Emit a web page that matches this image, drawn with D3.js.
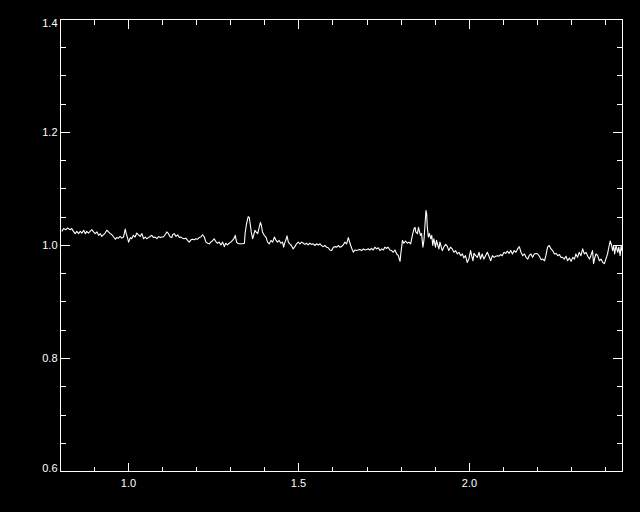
<!DOCTYPE html>
<html>
<head>
<meta charset="utf-8">
<script src="https://cdn.jsdelivr.net/npm/d3@7"></script>
<style>
  html, body { margin: 0; padding: 0; background: #000; }
  svg { display: block; }
  text { font-family: "Liberation Sans", Arial, sans-serif; font-size: 11px; fill: #fff; }
</style>
</head>
<body>
<svg id="chart" width="640" height="512"></svg>
<script>
// ---- data ----
const wavelength = [
  0.804,0.809,0.816,0.821,0.828,0.833,0.838,0.843,0.848,0.853,0.858,0.863,0.868,0.873,0.877,0.882,0.887,0.892,0.897,0.902,
  0.907,0.912,0.917,0.921,0.926,0.931,0.936,0.941,0.946,0.951,0.956,0.961,0.965,0.970,0.975,0.980,0.985,0.990,0.993,0.997,
  1.000,1.005,1.009,1.014,1.019,1.024,1.029,1.034,1.039,1.044,1.049,1.053,1.058,1.063,1.068,1.073,1.078,1.083,1.088,1.093,
  1.097,1.102,1.107,1.112,1.117,1.122,1.127,
  1.129,1.134,1.139,1.144,1.149,1.153,1.158,1.163,1.168,1.173,1.178,1.183,1.188,1.193,1.197,1.202,1.207,1.212,1.217,1.222,
  1.227,1.232,1.237,1.241,1.246,1.251,1.256,1.261,1.266,1.271,1.276,1.281,1.285,1.290,1.295,1.300,1.305,1.310,1.313,1.317,
  1.320,1.325,1.335,1.340,1.342,1.346,1.351,1.354,1.357,1.360,1.364,1.367,1.371,1.374,1.379,1.384,1.387,1.390,1.393,1.398,
  1.403,1.408,1.413,1.418,1.423,1.428,1.432,1.437,1.442,1.447,1.452,1.455,1.459,1.462,
  1.465,1.469,1.473,1.478,1.483,1.488,1.493,1.498,1.503,1.508,1.513,1.517,1.522,1.527,1.532,1.537,1.542,1.547,1.552,1.557,
  1.562,1.566,1.571,1.576,1.581,1.586,1.591,1.596,1.601,1.606,1.611,1.616,1.620,1.625,1.630,1.635,1.640,1.645,1.648,1.652,
  1.657,1.660,1.664,1.669,1.674,1.679,1.684,1.689,1.694,1.699,1.704,1.708,1.713,1.718,1.723,1.728,1.733,1.738,1.743,1.748,
  1.752,1.757,1.762,1.767,1.772,1.777,1.782,1.787,1.792,1.795,1.797,1.799,
  1.804,1.808,1.813,1.818,1.823,1.828,1.833,1.838,1.841,1.843,1.848,1.851,1.853,1.857,1.860,1.864,1.867,1.870,1.873,1.875,
  1.877,1.880,1.883,1.887,1.890,1.893,1.896,1.901,1.904,1.908,1.911,1.914,1.918,1.921,1.926,1.931,1.936,1.940,1.945,1.950,
  1.955,1.960,1.965,1.970,1.975,1.980,1.984,1.989,1.994,1.999,2.004,2.007,2.011,2.014,2.019,2.024,2.029,2.033,2.038,2.043,
  2.048,2.053,2.058,2.063,2.068,2.073,2.078,2.083,2.087,2.092,2.097,2.102,2.107,2.112,2.117,2.122,2.127,
  2.132,2.137,2.142,2.147,2.152,2.157,2.162,2.167,2.172,2.176,2.181,2.186,2.191,2.196,2.201,2.206,2.211,2.216,2.221,2.225,
  2.230,2.235,2.240,2.245,2.250,2.255,2.260,2.265,2.269,2.274,2.279,2.284,2.289,2.294,2.299,2.304,2.309,2.313,2.318,2.323,
  2.328,2.333,2.338,2.343,2.348,2.353,2.357,2.362,2.365,2.369,2.372,2.377,2.382,2.387,2.392,2.397,2.401,2.406,2.411,2.414,
  2.418,2.421,2.424,2.427,2.431,2.436,2.439,2.443,2.446,2.448
];
const flux = [
  1.025,1.030,1.028,1.031,1.028,1.030,1.025,1.021,1.025,1.021,1.025,1.022,1.027,1.021,1.025,1.022,1.025,1.028,1.024,1.021,
  1.024,1.018,1.021,1.016,1.019,1.022,1.027,1.024,1.021,1.019,1.015,1.011,1.014,1.013,1.016,1.013,1.015,1.029,1.021,1.013,
  1.006,1.014,1.012,1.018,1.015,1.022,1.019,1.016,1.021,1.012,1.015,1.012,1.014,1.016,1.018,1.014,1.015,1.012,1.016,1.014,
  1.015,1.015,1.019,1.024,1.021,1.015,1.014,
  1.019,1.021,1.016,1.019,1.014,1.015,1.013,1.012,1.013,1.009,1.006,1.010,1.011,1.010,1.012,1.011,1.014,1.015,1.019,1.015,
  1.006,1.004,1.003,1.006,1.008,1.012,1.007,1.004,1.006,1.001,1.006,0.998,1.004,1.001,1.004,1.006,1.009,1.013,1.018,1.006,
  1.004,1.003,1.003,1.004,1.021,1.038,1.051,1.050,1.038,1.024,1.012,1.018,1.027,1.024,1.021,1.034,1.041,1.035,1.024,1.018,
  1.015,1.006,1.003,1.009,1.006,1.015,1.010,1.006,1.009,1.004,1.006,0.997,1.006,1.010,
  1.017,1.006,1.003,1.000,0.994,0.998,1.003,1.006,1.003,1.006,1.004,1.002,1.004,1.001,1.004,1.002,1.003,1.000,1.003,1.001,
  1.003,1.000,0.998,1.000,0.997,0.996,0.992,0.991,0.997,0.998,0.997,1.000,0.997,0.998,1.001,1.006,1.003,1.014,1.008,1.000,
  0.992,0.988,0.992,0.991,0.992,0.993,0.991,0.994,0.992,0.993,0.994,0.992,0.995,0.992,0.997,0.994,0.996,0.991,0.994,0.992,
  0.997,0.995,0.997,0.992,0.991,0.988,0.992,0.985,0.982,0.975,0.972,0.985,
  1.009,1.004,1.008,1.004,1.006,1.003,1.018,1.030,1.032,1.024,1.021,1.032,1.027,1.018,1.021,0.997,1.009,1.035,1.062,1.056,
  1.032,1.015,1.021,1.012,1.018,1.000,1.012,0.997,1.009,1.000,0.994,1.006,0.997,0.991,0.998,1.002,0.998,0.991,0.997,0.994,
  0.988,0.991,0.985,0.988,0.982,0.985,0.978,0.982,0.970,0.976,0.991,0.982,0.973,0.986,0.982,0.979,0.988,0.976,0.985,0.976,
  0.982,0.988,0.981,0.973,0.982,0.979,0.981,0.982,0.981,0.984,0.982,0.988,0.986,0.990,0.986,0.991,0.985,
  0.991,0.988,0.994,0.998,0.988,0.982,0.985,0.979,0.976,0.982,0.985,0.979,0.985,0.986,0.985,0.981,0.975,0.976,0.973,0.982,
  0.997,1.000,0.994,0.991,0.985,0.986,0.982,0.984,0.979,0.979,0.976,0.981,0.973,0.978,0.972,0.979,0.976,0.985,0.979,0.988,
  0.982,0.994,0.985,0.988,0.981,0.976,0.982,0.991,0.968,0.979,0.985,0.982,0.973,0.976,0.970,0.968,0.976,0.985,1.000,1.008,
  1.000,0.991,1.000,0.985,1.000,0.988,0.997,0.982,1.000,0.991
];
const xDomain = [0.8, 2.45];
const yDomain = [0.6, 1.4];
const xMajorTicks = [1.0, 1.5, 2.0];
const xTickLabels = ["1.0", "1.5", "2.0"];
const xMinorTicks = [0.9, 1.1, 1.2, 1.3, 1.4, 1.6, 1.7, 1.8, 1.9, 2.1, 2.2, 2.3, 2.4];
const yMajorTicks = [0.6, 0.8, 1.0, 1.2, 1.4];
const yTickLabels = ["0.6", "0.8", "1.0", "1.2", "1.4"];
const yMinorTicks = [0.65, 0.7, 0.75, 0.85, 0.9, 0.95, 1.05, 1.1, 1.15, 1.25, 1.3, 1.35];

// ---- layout ----
const L = 60, R = 622, T = 19, B = 471;
const svg = d3.select("#chart");
svg.append("rect").attr("width", 640).attr("height", 512).attr("fill", "#000");

const x = d3.scaleLinear().domain(xDomain).range([L + 0.5, R + 0.5]);
const y = d3.scaleLinear().domain(yDomain).range([B + 0.5, T + 0.5]);
const xa = d3.scaleLinear().domain(xDomain).range([L, R]).interpolate(d3.interpolateRound);
const ya = d3.scaleLinear().domain(yDomain).range([B, T]).interpolate(d3.interpolateRound);

function strip(g) {
  g.select(".domain").remove();
  g.selectAll(".tick line").attr("stroke", "#fff").attr("stroke-width", 1);
  g.selectAll("text").attr("fill", "#fff").style("font-size", "11px")
    .style("font-family", '"Liberation Sans", Arial, sans-serif');
}

// bottom
svg.append("g").attr("transform", `translate(0,${B + 1})`)
  .call(d3.axisBottom(xa).tickValues(xMajorTicks).tickSize(-9).tickPadding(7)
    .tickFormat((d, i) => xTickLabels[i]))
  .call(strip);
svg.append("g").attr("transform", `translate(0,${B + 1})`)
  .call(d3.axisBottom(xa).tickValues(xMinorTicks).tickSize(-5).tickFormat(""))
  .call(strip);
// top
svg.append("g").attr("transform", `translate(0,${T})`)
  .call(d3.axisTop(xa).tickValues(xMajorTicks).tickSize(-10).tickFormat(""))
  .call(strip);
svg.append("g").attr("transform", `translate(0,${T})`)
  .call(d3.axisTop(xa).tickValues(xMinorTicks).tickSize(-6).tickFormat(""))
  .call(strip);
// left
const leftG = svg.append("g").attr("transform", `translate(${L},0)`)
  .call(d3.axisLeft(ya).tickValues(yMajorTicks).tickSize(-10).tickPadding(2.5)
    .tickFormat((d, i) => yTickLabels[i]))
  .call(strip);
leftG.selectAll(".tick text").attr("dy", d => d === 1.4 ? "0.68em" : (d === 0.6 ? "0.05em" : "0.32em"));
svg.append("g").attr("transform", `translate(${L},0)`)
  .call(d3.axisLeft(ya).tickValues(yMinorTicks).tickSize(-6).tickFormat(""))
  .call(strip);
// right
svg.append("g").attr("transform", `translate(${R + 1},0)`)
  .call(d3.axisRight(ya).tickValues(yMajorTicks).tickSize(-10).tickFormat(""))
  .call(strip);
svg.append("g").attr("transform", `translate(${R + 1},0)`)
  .call(d3.axisRight(ya).tickValues(yMinorTicks).tickSize(-6).tickFormat(""))
  .call(strip);

// frame
svg.append("rect")
  .attr("x", L + 0.5).attr("y", T + 0.5)
  .attr("width", R - L).attr("height", B - T)
  .attr("fill", "none").attr("stroke", "#fff").attr("stroke-width", 1);

// clip
svg.append("clipPath").attr("id", "plotclip")
  .append("rect").attr("x", L).attr("y", T).attr("width", R - L + 1).attr("height", B - T + 1);

const n = Math.min(wavelength.length, flux.length);
const pts = d3.range(n).map(i => [wavelength[i], flux[i]]);
const line = d3.line().x(d => x(d[0])).y(d => y(d[1]));
svg.append("path")
  .datum(pts)
  .attr("clip-path", "url(#plotclip)")
  .attr("d", line)
  .attr("fill", "none")
  .attr("stroke", "#fff")
  .attr("stroke-width", 1.1)
  .attr("stroke-linejoin", "round");
</script>
</body>
</html>
